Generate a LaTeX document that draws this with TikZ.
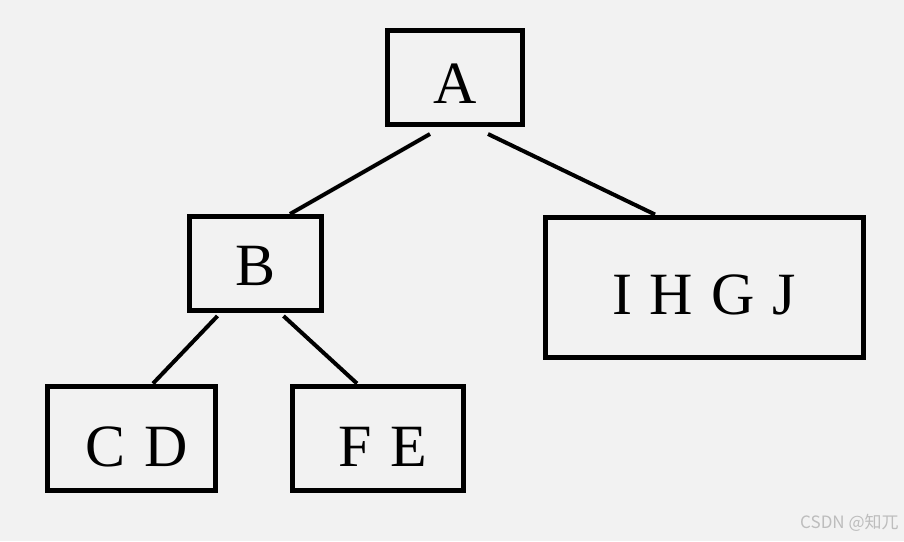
\documentclass[tikz,border=0pt]{standalone}
\usepackage{fontspec}
\setmainfont{Liberation Serif}
\newfontfamily\cjk{Noto Sans CJK SC}
\definecolor{bgray}{HTML}{F2F2F2}
\definecolor{wmark}{HTML}{BDBDBD}
\begin{document}
\begin{tikzpicture}[x=0.5pt,y=-0.5pt,
  box/.style={draw,line width=2.5pt,inner sep=0pt,text height=26pt,text depth=0pt,
    font=\fontsize{30}{30}\selectfont},
  edge/.style={line width=2pt}]
\fill[bgray] (0,0) rectangle (904,541);
\useasboundingbox (0,0) rectangle (904,541);

\node[box,minimum width=67.5pt,minimum height=47pt] (A) at (455,77.5) {A};
\node[box,minimum width=66pt,minimum height=47pt,text height=21.5pt] (B) at (255.5,263.5) {B};
\node[box,minimum width=159pt,minimum height=70pt,text height=27pt] (IHGJ) at (704,287) {I\hspace{0.3em}H\hspace{0.3em}G\hspace{0.3em}J};
\node[box,minimum width=84pt,minimum height=52pt,text height=28pt] (CD) at (131.5,438) {\hspace{5pt}C\hspace{0.32em}D};
\node[box,minimum width=85.5pt,minimum height=52pt,text height=28pt] (FE) at (378,438) {\hspace{5pt}F\hspace{0.32em}E};

\draw[edge] ([xshift=-12.5pt,yshift=-3.5pt]A.south) -- ([xshift=17.25pt]B.north);
\draw[edge] ([xshift=16.5pt,yshift=-3.5pt]A.south) -- ([xshift=-24.5pt]IHGJ.north);
\draw[edge] ([xshift=-19pt,yshift=-1.5pt]B.south) -- ([xshift=10.75pt]CD.north);
\draw[edge] ([xshift=14pt,yshift=-1.5pt]B.south) -- ([xshift=-10.5pt]FE.north);

\node[anchor=east,text=wmark,inner sep=0pt,font=\cjk\fontsize{8.5}{8.5}\selectfont] (mark) at (899,523) {CSDN @知兀};
\end{tikzpicture}
\end{document}
